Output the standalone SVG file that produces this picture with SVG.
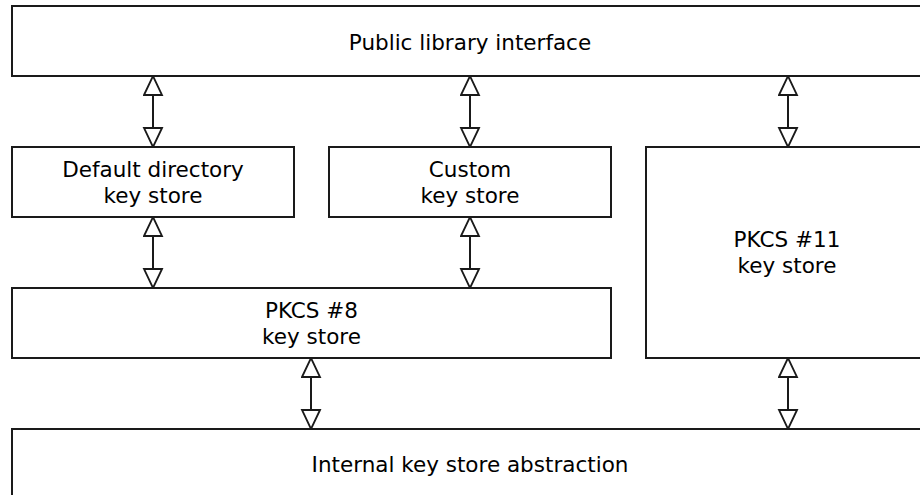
<svg xmlns="http://www.w3.org/2000/svg" width="920" height="495" viewBox="0 0 920 495">
  <style>
    .box { fill: #ffffff; stroke: #1a1a1a; stroke-width: 2; }
    .lbl { font-family: "DejaVu Sans", sans-serif; font-size: 21.5px; fill: #000000; text-anchor: middle; }
    .conn { stroke: #1a1a1a; stroke-width: 2; fill: none; marker-start: url(#tri); marker-end: url(#tri); }
  </style>
  <defs>
    <marker id="tri" markerUnits="userSpaceOnUse" markerWidth="22" markerHeight="22" viewBox="-1 -1 22 22" refX="19" refY="9.5" orient="auto-start-reverse">
      <path d="M0,0.5 L19,9.5 L0,18.5 Z" fill="#ffffff" stroke="#1a1a1a" stroke-width="1.8" stroke-linejoin="miter"/>
    </marker>
  </defs>
  <rect width="920" height="495" fill="#ffffff"/>
  <g id="connectors">
    <line class="conn" x1="153" y1="76" x2="153" y2="147"/>
    <line class="conn" x1="470" y1="76" x2="470" y2="147"/>
    <line class="conn" x1="788" y1="76" x2="788" y2="147"/>
    <line class="conn" x1="153" y1="217" x2="153" y2="288"/>
    <line class="conn" x1="470" y1="217" x2="470" y2="288"/>
    <line class="conn" x1="311" y1="358" x2="311" y2="429"/>
    <line class="conn" x1="788" y1="358" x2="788" y2="429"/>
  </g>
  <g id="public">
    <rect class="box" x="12" y="6" width="920" height="70"/>
    <text class="lbl" x="470" y="50">Public library interface</text>
  </g>
  <g id="default">
    <rect class="box" x="12" y="147" width="282" height="70"/>
    <text class="lbl" x="153" y="177">Default directory</text>
    <text class="lbl" x="153" y="203">key store</text>
  </g>
  <g id="custom">
    <rect class="box" x="329" y="147" width="282" height="70"/>
    <text class="lbl" x="470" y="177">Custom</text>
    <text class="lbl" x="470" y="203">key store</text>
  </g>
  <g id="pkcs11">
    <rect class="box" x="646" y="147" width="290" height="211"/>
    <text class="lbl" x="787" y="247">PKCS #11</text>
    <text class="lbl" x="787" y="273">key store</text>
  </g>
  <g id="pkcs8">
    <rect class="box" x="12" y="288" width="599" height="70"/>
    <text class="lbl" x="311.5" y="318">PKCS #8</text>
    <text class="lbl" x="311.5" y="344">key store</text>
  </g>
  <g id="internal">
    <rect class="box" x="12" y="429" width="920" height="80"/>
    <text class="lbl" x="470" y="472">Internal key store abstraction</text>
  </g>
</svg>
